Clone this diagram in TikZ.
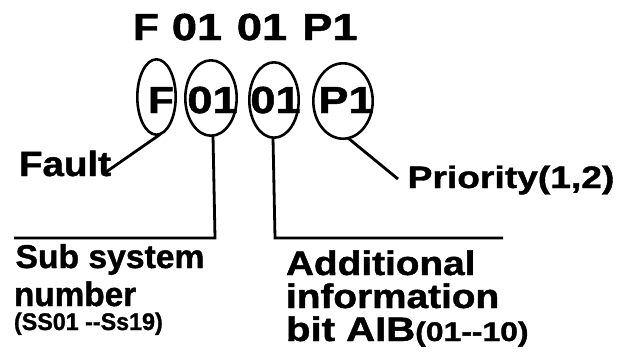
\documentclass[tikz,border=0pt]{standalone}
\usepackage{fontspec}
\setmainfont{Liberation Sans}[BoldFeatures={FakeBold=1.2}]
\usetikzlibrary{shapes.geometric}
\begin{document}
\begin{tikzpicture}[x=1pt,y=-1pt,
  lbl/.style={inner sep=0pt, outer sep=0pt, text=black},
  oval/.style={draw=black, line width=2.6pt},
  conn/.style={draw=black, line width=2.8pt, line join=miter}]
\useasboundingbox (0,0) rectangle (623,354);
% title
\node[lbl,anchor=base] (t1) at (146,40) {\fontsize{37.7}{40}\selectfont\bfseries\scalebox{1.12}[1]{F}};
\node[lbl,anchor=base] (t2) at (197,40) {\fontsize{37.7}{40}\selectfont\bfseries\scalebox{1.2}[1]{01}};
\node[lbl,anchor=base] (t3) at (262,40) {\fontsize{37.7}{40}\selectfont\bfseries\scalebox{1.2}[1]{01}};
\node[lbl,anchor=base] (t4) at (330,40) {\fontsize{37.7}{40}\selectfont\bfseries\scalebox{1.2}[1]{P1}};
% ellipses
\draw[oval] (156.5,97) ellipse [x radius=19.2, y radius=37.7];
\draw[oval] (211,98) ellipse [x radius=25.7, y radius=37.7];
\draw[oval] (274,100) ellipse [x radius=24.7, y radius=37.7];
\draw[oval] (343,101) ellipse [x radius=29.7, y radius=37.7];
\coordinate (eF) at (160,134.5);
\coordinate (eA) at (213,135.5);
\coordinate (eB) at (273,137.5);
\coordinate (eP) at (348,138);
\node[lbl,anchor=base] (lF) at (161,113) {\fontsize{37.7}{40}\selectfont\bfseries\scalebox{1.12}[1]{F}};
\node[lbl,anchor=base] (lA) at (212.5,113) {\fontsize{37.7}{40}\selectfont\bfseries\scalebox{1.2}[1]{01}};
\node[lbl,anchor=base] (lB) at (275.5,113) {\fontsize{37.7}{40}\selectfont\bfseries\scalebox{1.2}[1]{01}};
\node[lbl,anchor=base] (lP) at (346,113) {\fontsize{37.7}{40}\selectfont\bfseries\scalebox{1.2}[1]{P1}};
% labels
\node[lbl,anchor=base] (fault) at (65,176) {\fontsize{35}{37}\selectfont\bfseries\scalebox{1.1}[1]{Fault}};
\node[lbl,anchor=base] (prio) at (511,188) {\fontsize{31}{33}\selectfont\bfseries\scalebox{1.2}[1]{Priority(1,2)}};
\node[lbl,anchor=base] (sub1) at (110,268) {\fontsize{33}{35}\selectfont\bfseries\scalebox{1.02}[1]{Sub system}};
\node[lbl,anchor=base west] (sub2) at (14,306) {\fontsize{34}{36}\selectfont\bfseries\scalebox{0.98}[1]{number}};
\node[lbl,anchor=base west] (sub3) at (14,330) {\fontsize{24}{26}\selectfont\bfseries\scalebox{0.97}[1]{(SS01 -{}-Ss19)}};
\node[lbl,anchor=base west] (add1) at (286,275) {\fontsize{34}{36}\selectfont\bfseries\scalebox{1.14}[1]{Additional}};
\node[lbl,anchor=base west] (add2) at (286,308) {\fontsize{34}{36}\selectfont\bfseries\scalebox{1.14}[1]{information}};
\node[lbl,anchor=base west] (add3) at (286,341) {\fontsize{34}{36}\selectfont\bfseries\scalebox{1.18}[1]{bit AIB\fontsize{27}{29}\selectfont(01-{}-10)}};
% connectors
\coordinate (fEnd) at (106,172);
\coordinate (pEnd) at (398,179);
\coordinate (sCorner) at (215,238);
\coordinate (sEnd) at (14,238);
\coordinate (aCorner) at (275,238);
\coordinate (aEnd) at (503,238);
\draw[conn] (eF) -- (fEnd);
\draw[conn] (eP) -- (pEnd);
\draw[conn] (eA) -- (sCorner) -- (sEnd);
\draw[conn] (eB) -- (aCorner) -- (aEnd);
\end{tikzpicture}
\end{document}
